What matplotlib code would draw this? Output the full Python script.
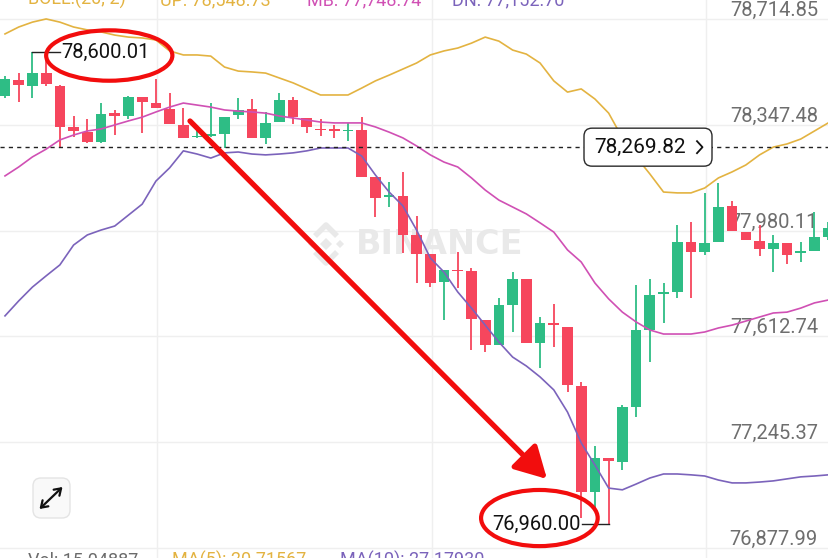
import numpy as np
import matplotlib
matplotlib.use("Agg")
import matplotlib.pyplot as plt
from matplotlib.patches import Ellipse, FancyBboxPatch, Polygon
from matplotlib.transforms import Affine2D, blended_transform_factory

# ---------------- data ----------------
opens = [78447, 78503, 78482, 78527, 78482, 78340, 78322, 78288, 78388, 78378,
         78444, 78423, 78402, 78347, 78305, 78309, 78316, 78381, 78402, 78302,
         78357, 78434, 78371, 78333, 78333, 78326, 78329, 78166, 78097, 78100,
         77965, 77899, 77802, 77843, 77840, 77670, 77583, 77722, 77812, 77590,
         77659, 77645, 77441, 77073, 77191, 77177, 77368, 77635, 77760, 77767,
         77941, 77906, 77941, 78066, 77975, 77944, 77916, 77937, 77902, 77909, 77958]
highs = [78517, 78527, 78600.01, 78597, 78486, 78378, 78368, 78423, 78399, 78447,
         78444, 78506, 78458, 78406, 78347, 78423, 78374, 78440, 78437, 78392,
         78458, 78444, 78371, 78368, 78347, 78354, 78374, 78166, 78149, 78184,
         78031, 77899, 77843, 77906, 77850, 77670, 77746, 77836, 77812, 77680,
         77725, 77645, 77454, 77232, 77191, 77375, 77791, 77812, 77798, 78000,
         78010, 78111, 78145, 78083, 77975, 78000, 77965, 77937, 77941, 78045, 78010]
lows = [78440, 78427, 78440, 78482, 78267, 78305, 78284, 78284, 78312, 78368,
        78319, 78406, 78350, 78302, 78302, 78305, 78267, 78368, 78302, 78281,
        78357, 78350, 78319, 78309, 78302, 78291, 78166, 78027, 78062, 77902,
        77798, 77784, 77670, 77781, 77566, 77559, 77583, 77628, 77590, 77503,
        77576, 77420, 76982, 77010, 76960.00, 77149, 77333, 77524, 77659, 77746,
        77746, 77895, 77941, 77979, 77948, 77892, 77836, 77864, 77871, 77909, 77948]
closes = [78506, 78486, 78527, 78489, 78340, 78326, 78288, 78385, 78378, 78444,
          78427, 78406, 78350, 78302, 78309, 78316, 78374, 78399, 78302, 78354,
          78434, 78374, 78340, 78329, 78326, 78329, 78166, 78093, 78100, 77965,
          77899, 77798, 77843, 77840, 77673, 77583, 77722, 77812, 77590, 77659,
          77652, 77444, 77073, 77191, 77180, 77368, 77635, 77757, 77767, 77941,
          77906, 77937, 78062, 77979, 77948, 77916, 77937, 77895, 77909, 77958, 77989]

boll_up = [78663, 78687, 78704, 78715, 78704, 78687, 78677, 78670, 78659, 78652,
           78649, 78642, 78604, 78590, 78590, 78586, 78548, 78534, 78531, 78527,
           78510, 78493, 78472, 78451, 78451, 78451, 78475, 78500, 78520, 78541,
           78562, 78590, 78604, 78614, 78631, 78652, 78638, 78607, 78593, 78562,
           78500, 78461, 78472, 78437, 78388, 78302, 78236, 78177, 78114, 78111,
           78111, 78128, 78163, 78184, 78208, 78243, 78270, 78281, 78298, 78326, 78354]
boll_mb = [78170, 78201, 78236, 78263, 78295, 78312, 78326, 78333, 78347, 78361,
           78374, 78392, 78409, 78423, 78416, 78409, 78399, 78395, 78392, 78388,
           78378, 78371, 78364, 78357, 78354, 78354, 78354, 78340, 78322, 78302,
           78274, 78243, 78218, 78201, 78163, 78121, 78086, 78062, 78038, 78007,
           77975, 77913, 77871, 77798, 77743, 77697, 77663, 77635, 77621, 77621,
           77621, 77628, 77642, 77652, 77666, 77680, 77694, 77697, 77711, 77729, 77739]
boll_dn = [77684, 77736, 77784, 77823, 77861, 77930, 77965, 77982, 77996, 78034,
           78072, 78152, 78198, 78257, 78246, 78232, 78250, 78253, 78246, 78243,
           78246, 78250, 78257, 78267, 78267, 78267, 78239, 78173, 78114, 78066,
           77982, 77885, 77836, 77767, 77711, 77652, 77593, 77541, 77510, 77472,
           77427, 77350, 77243, 77166, 77086, 77080, 77100, 77121, 77135, 77135,
           77132, 77128, 77114, 77104, 77104, 77107, 77111, 77118, 77125, 77128, 77132]

price_ticks = [78714.85, 78347.48, 77980.11, 77612.74, 77245.37, 76877.99]
last_price = 78269.82
top_legend = [("BOLL:(20, 2)", "gold"), ("UP: 78,548.73", "gold"),
              ("MB: 77,748.74", "mb"), ("DN: 77,152.70", "dn")]
bottom_legend = [("Vol: 15.04887", "vol"), ("MA(5): 20.71567", "gold"),
                 ("MA(10): 27.17930", "dn")]

# ---------------- style ----------------
W, H = 829, 558
GREEN = "#2ebd85"
RED = "#f6465d"
COL = {"gold": "#e3b341", "mb": "#d050b4", "dn": "#7b63bb", "vol": "#6b6b6b"}
ANN_RED = "#f20d0d"
FONT = "Roboto"

fig = plt.figure(figsize=(W / 100, H / 100), dpi=100)
ax = fig.add_axes([0, 0, 1, 1])
ax.set_axis_off()

n = len(opens)
x = np.arange(n)
o = np.array(opens, float); c = np.array(closes, float)
hi = np.array(highs, float); lo = np.array(lows, float)

ymax, ymin = 78780.82, 76843.27
ax.set_xlim(-0.364, 60.06)
ax.set_ylim(ymin, ymax)

# pixel transform (image coords, y down)
px = Affine2D().scale(1 / W, -1 / H).translate(0, 1) + fig.transFigure
bx = blended_transform_factory(px, ax.transData)

def ypix(p):
    return (ymax - p) / (ymax - ymin) * H

# grid
for p in price_ticks:
    ax.axhline(p, color="#efefef", lw=1.0, zorder=0)
for gx in [157, 432, 706]:
    ax.plot([gx, gx], [0, H], transform=px, color="#efefef", lw=1.0, zorder=0)

# right price labels
for p in price_ticks:
    ax.annotate(f"{p:,.2f}", xy=(818, p), xycoords=bx, xytext=(0, 2.2),
                textcoords="offset points", ha="right", va="baseline",
                fontsize=14.5, color="#6e6e6e", family=FONT, zorder=1)

# watermark
ax.text(440, 245, "BINANCE", transform=px, ha="center", va="center",
        fontsize=24, fontweight="bold", color="#e9e9e9", family="DejaVu Sans", zorder=1)
cx, cy = 326, 244
def diamond(x0, y0, r):
    return Polygon([(x0, y0 - r), (x0 + r, y0), (x0, y0 + r), (x0 - r, y0)],
                   closed=True, transform=px, fc="#e9e9e9", ec="none", zorder=1)
for (dx, dy, r) in [(0, 0, 6), (-14, 0, 4), (14, 0, 4)]:
    ax.add_patch(diamond(cx + dx, cy + dy, r))
ax.plot([cx - 11, cx, cx + 11], [cy - 8, cy - 19, cy - 8], transform=px,
        color="#e9e9e9", lw=4, solid_capstyle="butt", zorder=1)
ax.plot([cx - 11, cx, cx + 11], [cy + 8, cy + 19, cy + 8], transform=px,
        color="#e9e9e9", lw=4, solid_capstyle="butt", zorder=1)

# candles
colors = np.where(c >= o, GREEN, RED)
ax.vlines(x, lo, hi, colors=colors, lw=1.3, zorder=3)
body_h = np.maximum(np.abs(c - o), 5.0)
body_b = np.minimum(o, c)
ax.bar(x, body_h, bottom=body_b, width=0.78, color=colors, lw=0, zorder=3)

# bollinger
ax.plot(x, boll_up, color=COL["gold"], lw=1.2, zorder=4)
ax.plot(x, boll_mb, color=COL["mb"], lw=1.2, zorder=4)
ax.plot(x, boll_dn, color=COL["dn"], lw=1.2, zorder=4)

# last price dashed line + box
ax.axhline(last_price, color="#222222", lw=1.0, dashes=(3, 3), zorder=5)
yb = ypix(last_price)
box = FancyBboxPatch((584, yb - 19), 128, 38, transform=px,
                     boxstyle="round,pad=0,rounding_size=8",
                     fc="white", ec="#2a2a2a", lw=1.0, zorder=6)
ax.add_patch(box)
ax.text(594, last_price, f"{last_price:,.2f}", transform=bx, ha="left", va="center",
        fontsize=15, color="#111111", family=FONT, zorder=7)
ax.plot([697, 702.5, 697], [yb - 6, yb, yb + 6], transform=px, color="#111111",
        lw=1.3, zorder=7)

# high / low markers
hi_i = int(np.argmax(hi)); lo_i = int(np.argmin(lo))
ax.plot([hi_i, hi_i + 2.0], [hi[hi_i], hi[hi_i]], color="#222222", lw=1.0, zorder=5)
ax.text(hi_i + 2.1, hi[hi_i], f"{hi[hi_i]:,.2f}", ha="left", va="center",
        fontsize=14.5, color="#111111", family=FONT, zorder=7)
ax.plot([lo_i, lo_i - 1.95], [lo[lo_i], lo[lo_i]], color="#222222", lw=1.0, zorder=5)
ax.text(lo_i - 2.05, lo[lo_i], f"{lo[lo_i]:,.2f}", ha="right", va="center",
        fontsize=14.5, color="#111111", family=FONT, zorder=7)

ax.add_patch(Ellipse((hi_i + 5.6, hi[hi_i] - 12), 9.2, 175, fill=False,
                     ec=ANN_RED, lw=3.0, zorder=8))
ax.add_patch(Ellipse((lo_i - 5.05, lo[lo_i] + 22), 8.5, 195, fill=False,
                     ec=ANN_RED, lw=3.0, zorder=8))

# red arrow
ax.annotate("", xy=(547, 479), xycoords=px, xytext=(190, 121), textcoords=px,
            arrowprops=dict(arrowstyle="-|>,head_length=1.9,head_width=1.05",
                            color=ANN_RED, lw=3.8, shrinkA=0, shrinkB=0,
                            mutation_scale=10), zorder=8)

# expand icon
icon = FancyBboxPatch((33, 478), 37, 40, transform=px,
                      boxstyle="round,pad=0,rounding_size=8",
                      fc="#f9f9f9", ec="#e4e4e4", lw=1.0, zorder=6)
ax.add_patch(icon)
ax.annotate("", xy=(62.5, 487), xycoords=px, xytext=(39.5, 509), textcoords=px,
            arrowprops=dict(arrowstyle="<->,head_length=0.45,head_width=0.3",
                            color="#111111", lw=1.6, shrinkA=0, shrinkB=0), zorder=7)

# partial legends at top / bottom
for (txt, key), xp in zip(top_legend, [28, 160, 307, 452]):
    ax.text(xp, 5, txt, transform=px, ha="left", va="baseline", fontsize=13,
            color=COL[key], family=FONT, zorder=7)
for (txt, key), xp in zip(bottom_legend, [28, 172, 340]):
    ax.text(xp, 566, txt, transform=px, ha="left", va="baseline", fontsize=13,
            color=COL[key], family=FONT, zorder=7)

fig.savefig("out.png", dpi=100)
